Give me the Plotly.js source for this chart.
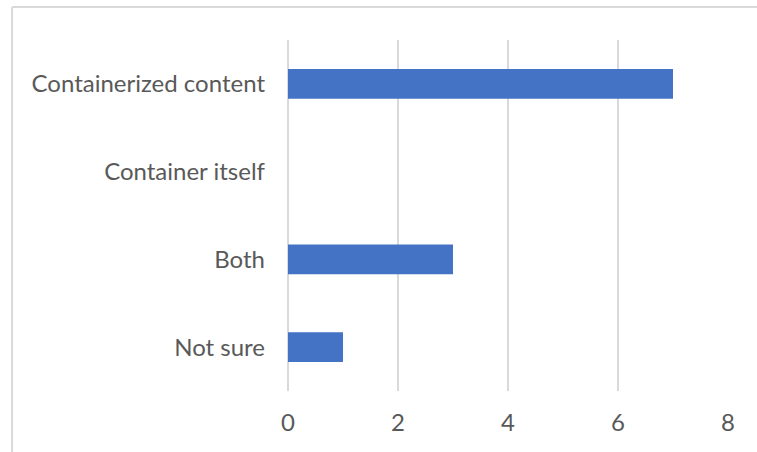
<!DOCTYPE html>
<html><head><meta charset="utf-8">
<script src="https://cdn.plot.ly/plotly-3.0.1.min.js"></script>
<style>html,body{margin:0;padding:0;background:#fff;}#chart{width:757px;height:452px;}</style>
</head><body><div id="chart"></div>
<script>
const categories = ["Containerized content", "Container itself", "Both", "Not sure"];
const values = [7, 0, 3, 1];
const xTicks = [0, 2, 4, 6, 8];

const fontFam = "Lato, 'Open Sans', sans-serif";
const trace = {
  type: 'bar', orientation: 'h',
  x: values, y: categories,
  marker: {color: '#4472c4'},
  width: 0.34,
  hoverinfo: 'x+y'
};
const layout = {
  width: 757, height: 452,
  margin: {l: 288, r: 29, t: 40, b: 61},
  paper_bgcolor: '#fff', plot_bgcolor: '#fff',
  showlegend: false,
  font: {family: fontFam, color: '#595959', size: 24},
  xaxis: {
    range: [0, 8], tickvals: xTicks, ticktext: xTicks.map(String),
    showgrid: true, gridcolor: '#d9d9d9', gridwidth: 1.5,
    zeroline: true, zerolinecolor: '#d9d9d9', zerolinewidth: 1.5,
    showline: false, ticks: '',
    ticklabelstandoff: 15,
    tickfont: {family: fontFam, size: 24, color: '#595959'}
  },
  yaxis: {
    type: 'category', autorange: 'reversed',
    categoryorder: 'array', categoryarray: categories,
    showgrid: false, zeroline: false, showline: false, ticks: '',
    ticklabelstandoff: 22,
    tickfont: {family: fontFam, size: 24, color: '#595959'}
  },
  shapes: [
    {type: 'line', xref: 'paper', yref: 'paper', x0: -0.627, x1: 1.2, y0: 1.094, y1: 1.094, line: {color: '#d9d9d9', width: 2}},
    {type: 'line', xref: 'paper', yref: 'paper', x0: -0.627, x1: -0.627, y0: 1.094, y1: -0.3, line: {color: '#d9d9d9', width: 2}}
  ]
};
Plotly.newPlot('chart', [trace], layout, {displayModeBar: false, staticPlot: true});
</script></body></html>
